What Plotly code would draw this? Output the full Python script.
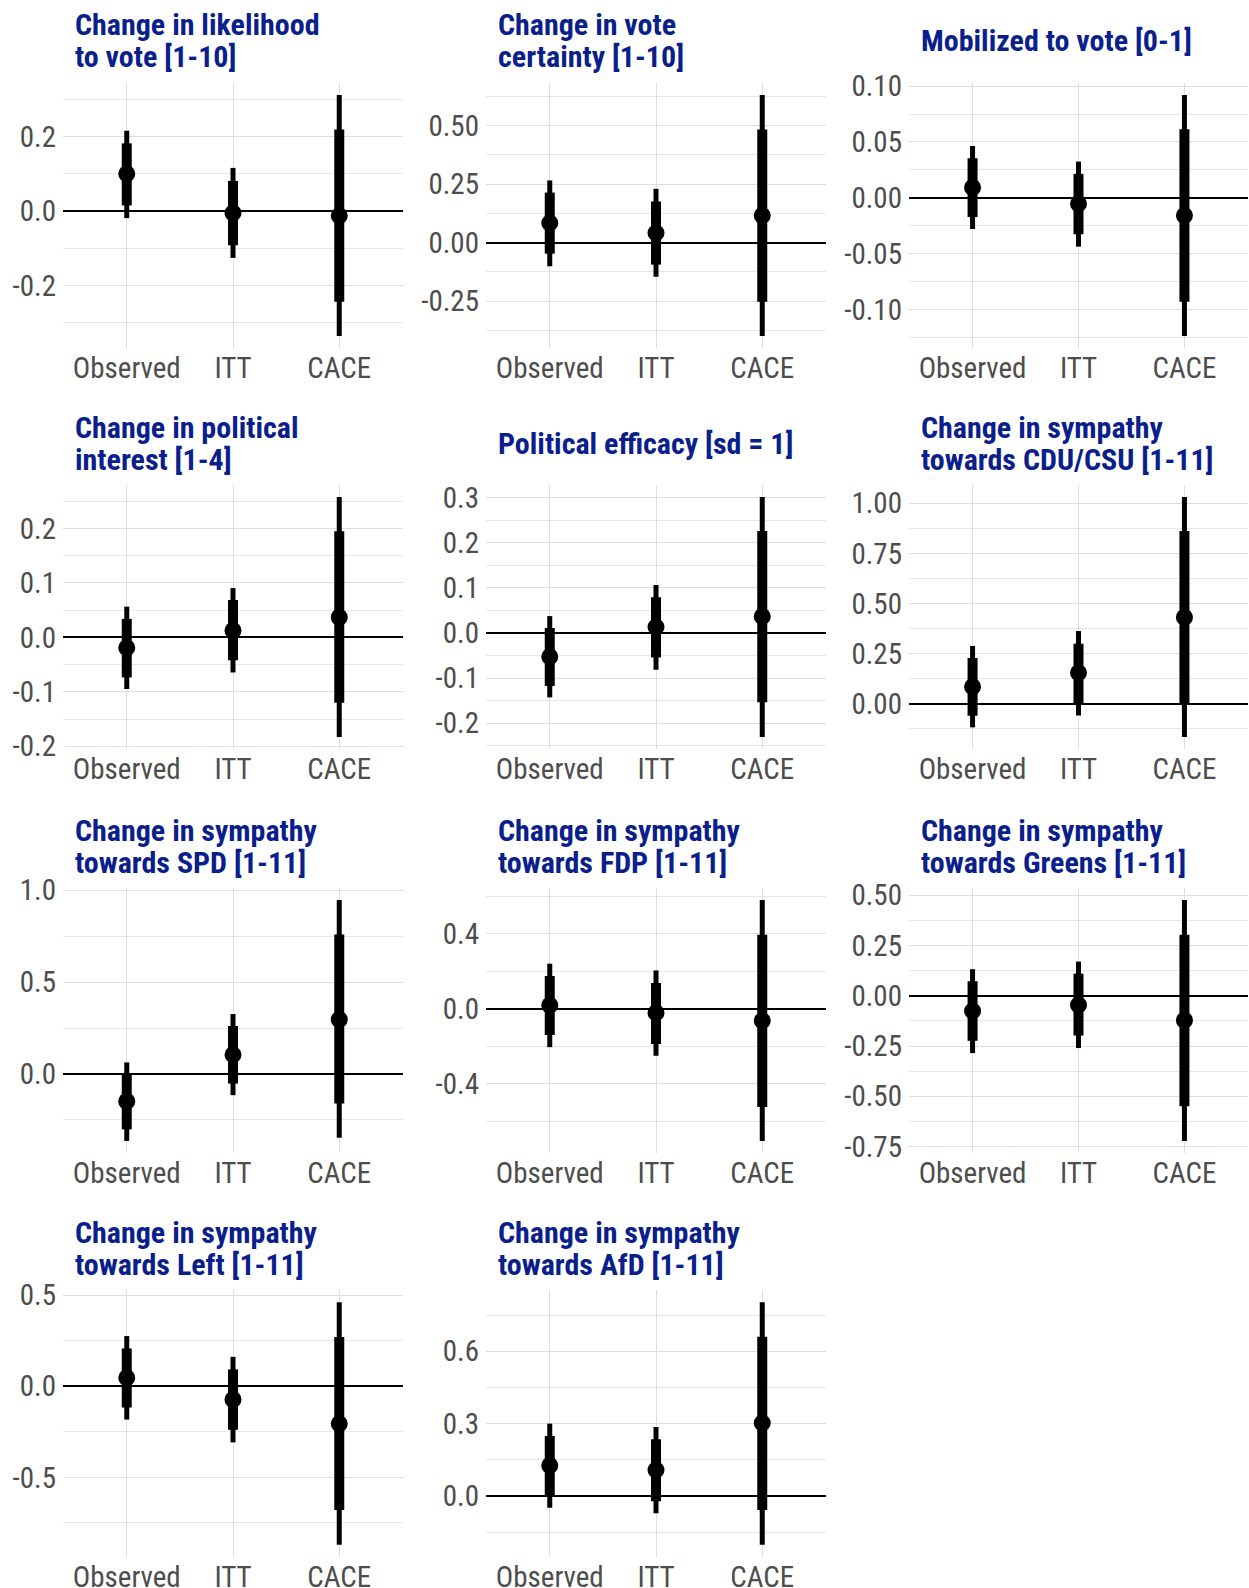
import plotly.graph_objects as go

CATEGORIES = ["Observed", "ITT", "CACE"]

TITLES = [
    "Change in likelihood\nto vote [1-10]",
    "Change in vote\ncertainty [1-10]",
    "Mobilized to vote [0-1]",
    "Change in political\ninterest [1-4]",
    "Political efficacy [sd = 1]",
    "Change in sympathy\ntowards CDU/CSU [1-11]",
    "Change in sympathy\ntowards SPD [1-11]",
    "Change in sympathy\ntowards FDP [1-11]",
    "Change in sympathy\ntowards Greens [1-11]",
    "Change in sympathy\ntowards Left [1-11]",
    "Change in sympathy\ntowards AfD [1-11]",
]

# point estimates (Observed, ITT, CACE)
ESTIMATE = [
    [0.100, -0.005, -0.0125],
    [0.084, 0.041, 0.116],
    [0.0092, -0.0054, -0.0158],
    [-0.0188, 0.0128, 0.037],
    [-0.053, 0.0132, 0.0368],
    [0.0858, 0.155, 0.432],
    [-0.148, 0.1045, 0.297],
    [0.0195, -0.021, -0.064],
    [-0.0758, -0.046, -0.122],
    [0.0459, -0.073, -0.2055],
    [0.126, 0.108, 0.303],
]
# inner (thick) interval
INNER_LO = [
    [0.015, -0.092, -0.244],
    [-0.047, -0.094, -0.253],
    [-0.0173, -0.0327, -0.0932],
    [-0.0736, -0.042, -0.120],
    [-0.1176, -0.0544, -0.154],
    [-0.059, 0.000, 0.000],
    [-0.301, -0.052, -0.160],
    [-0.140, -0.188, -0.524],
    [-0.224, -0.198, -0.550],
    [-0.117, -0.239, -0.679],
    [0.000, -0.022, -0.058],
]
INNER_HI = [
    [0.182, 0.081, 0.2196],
    [0.214, 0.176, 0.484],
    [0.0354, 0.0214, 0.0613],
    [0.034, 0.0687, 0.195],
    [0.011, 0.0794, 0.2265],
    [0.229, 0.300, 0.861],
    [0.000, 0.261, 0.759],
    [0.175, 0.138, 0.395],
    [0.0725, 0.110, 0.303],
    [0.207, 0.092, 0.270],
    [0.249, 0.235, 0.660],
]
# outer (thin) interval
OUTER_LO = [
    [-0.019, -0.126, -0.336],
    [-0.101, -0.146, -0.399],
    [-0.028, -0.0438, -0.1238],
    [-0.0948, -0.0644, -0.183],
    [-0.143, -0.0816, -0.231],
    [-0.117, -0.058, -0.165],
    [-0.364, -0.115, -0.346],
    [-0.205, -0.251, -0.706],
    [-0.285, -0.260, -0.722],
    [-0.183, -0.308, -0.870],
    [-0.049, -0.072, -0.203],
]
OUTER_HI = [
    [0.216, 0.116, 0.312],
    [0.266, 0.230, 0.631],
    [0.0464, 0.0324, 0.092],
    [0.0565, 0.0906, 0.258],
    [0.0375, 0.1066, 0.302],
    [0.289, 0.363, 1.031],
    [0.063, 0.326, 0.946],
    [0.241, 0.205, 0.581],
    [0.132, 0.170, 0.476],
    [0.275, 0.161, 0.461],
    [0.300, 0.286, 0.804],
]

Y_TICKS = [
    [-0.2, 0.0, 0.2],
    [-0.25, 0.0, 0.25, 0.5],
    [-0.10, -0.05, 0.0, 0.05, 0.10],
    [-0.2, -0.1, 0.0, 0.1, 0.2],
    [-0.2, -0.1, 0.0, 0.1, 0.2, 0.3],
    [0.0, 0.25, 0.5, 0.75, 1.0],
    [0.0, 0.5, 1.0],
    [-0.4, 0.0, 0.4],
    [-0.75, -0.5, -0.25, 0.0, 0.25, 0.5],
    [-0.5, 0.0, 0.5],
    [0.0, 0.3, 0.6],
]
Y_TICK_LABELS = [
    ["-0.2", "0.0", "0.2"],
    ["-0.25", "0.00", "0.25", "0.50"],
    ["-0.10", "-0.05", "0.00", "0.05", "0.10"],
    ["-0.2", "-0.1", "0.0", "0.1", "0.2"],
    ["-0.2", "-0.1", "0.0", "0.1", "0.2", "0.3"],
    ["0.00", "0.25", "0.50", "0.75", "1.00"],
    ["0.0", "0.5", "1.0"],
    ["-0.4", "0.0", "0.4"],
    ["-0.75", "-0.50", "-0.25", "0.00", "0.25", "0.50"],
    ["-0.5", "0.0", "0.5"],
    ["0.0", "0.3", "0.6"],
]

# ---- layout constants (pixels) ----
W, H = 1249, 1588
COL_X = [(63, 403), (486, 826), (909, 1248)]
ROW_Y = [(83, 348), (485, 749), (888, 1153), (1290, 1557)]
FONT = "Roboto Condensed, Liberation Sans Narrow, Arial Narrow, Roboto, sans-serif"
TITLE_COLOR = "#0a1e8c"
GRID = "#dedede"

fig = go.Figure()
annotations = []
layout_axes = {}

for i in range(len(TITLES)):
    r, c = divmod(i, 3)
    sfx = "" if i == 0 else str(i + 1)
    xa, ya = "x" + sfx, "y" + sfx
    x0, x1 = COL_X[c]
    y0, y1 = ROW_Y[r]

    # outer interval
    xs, ys = [], []
    for k, cat in enumerate(CATEGORIES):
        xs += [cat, cat, None]
        ys += [OUTER_LO[i][k], OUTER_HI[i][k], None]
    fig.add_trace(go.Scatter(x=xs, y=ys, mode="lines", xaxis=xa, yaxis=ya,
                             line=dict(color="black", width=5), hoverinfo="skip",
                             showlegend=False))
    xs, ys = [], []
    for k, cat in enumerate(CATEGORIES):
        xs += [cat, cat, None]
        ys += [INNER_LO[i][k], INNER_HI[i][k], None]
    fig.add_trace(go.Scatter(x=xs, y=ys, mode="lines", xaxis=xa, yaxis=ya,
                             line=dict(color="black", width=10), hoverinfo="skip",
                             showlegend=False))
    fig.add_trace(go.Scatter(x=CATEGORIES, y=ESTIMATE[i], mode="markers",
                             xaxis=xa, yaxis=ya,
                             marker=dict(color="black", size=17),
                             showlegend=False))

    lo = min(OUTER_LO[i] + [0.0])
    hi = max(OUTER_HI[i] + [0.0])
    pad = (hi - lo) * 0.05
    ticks = Y_TICKS[i]
    step = ticks[1] - ticks[0]
    minor = [t + step / 2 for t in ticks] + [ticks[0] - step / 2]

    layout_axes["xaxis" + sfx] = dict(
        domain=[x0 / W, x1 / W], anchor=ya, type="category",
        categoryorder="array", categoryarray=CATEGORIES,
        range=[-0.6, 2.6], showgrid=True, gridcolor=GRID, gridwidth=1,
        zeroline=False, showline=False, ticks="", fixedrange=True,
        ticklabelstandoff=0,
        tickfont=dict(family=FONT, size=29, color="#4d4d4d"),
    )
    layout_axes["yaxis" + sfx] = dict(
        domain=[1 - y1 / H, 1 - y0 / H], anchor=xa,
        range=[lo - pad, hi + pad],
        tickmode="array", tickvals=ticks, ticktext=Y_TICK_LABELS[i],
        showgrid=True, gridcolor=GRID, gridwidth=1,
        minor=dict(tickmode="array", tickvals=minor, showgrid=True,
                   gridcolor="#e6e6e6", gridwidth=1, ticks=""),
        zeroline=True, zerolinecolor="black", zerolinewidth=2,
        showline=False, ticks="", fixedrange=True,
        ticklabelstandoff=6,
        tickfont=dict(family=FONT, size=29, color="#4d4d4d"),
    )

    lines = TITLES[i].split("\n")
    if len(lines) == 2:
        centers = [y0 - 58, y0 - 26]
    else:
        centers = [y0 - 42]
    for txt, cy in zip(lines, centers):
        annotations.append(dict(
            text="<b>" + txt + "</b>", xref="paper", yref="paper",
            x=(x0 + 10) / W, y=1 - cy / H, xanchor="left", yanchor="middle",
            showarrow=False,
            font=dict(family=FONT, size=30, color=TITLE_COLOR),
        ))

fig.update_layout(
    width=W, height=H,
    margin=dict(l=0, r=0, t=0, b=0, pad=0, autoexpand=False),
    paper_bgcolor="white", plot_bgcolor="white",
    annotations=annotations,
    **layout_axes,
)

fig.write_html("out.html")
